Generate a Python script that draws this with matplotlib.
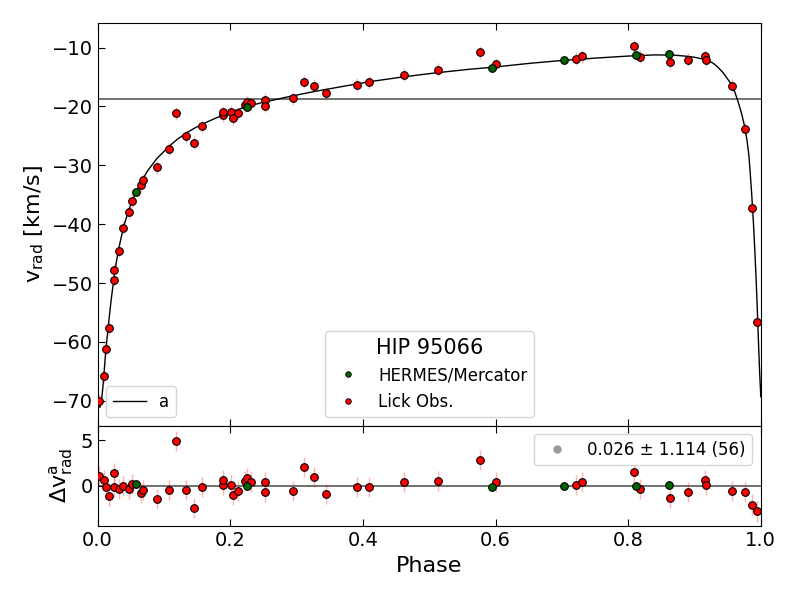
import matplotlib.pyplot as plt
from matplotlib.lines import Line2D

# Lick Obs. radial velocities (phase, v_rad [km/s], residual)
phase_lick = [0.002, 0.009, 0.0125, 0.017, 0.024, 0.0246, 0.032, 0.039, 0.0467, 0.0517,
              0.066, 0.0688, 0.0894, 0.1075, 0.1176, 0.134, 0.146, 0.157, 0.1884, 0.189,
              0.2005, 0.2045, 0.212, 0.223, 0.2255, 0.2316, 0.252, 0.2527, 0.294, 0.3115,
              0.3266, 0.3447, 0.3905, 0.4095, 0.4618, 0.514, 0.576, 0.6005, 0.721, 0.7297,
              0.8086, 0.818, 0.8633, 0.8895, 0.9156, 0.917, 0.9573, 0.976, 0.9865, 0.9945]
v_lick = [-70.0, -65.8, -61.2, -57.7, -49.4, -47.8, -44.5, -40.6, -38.0, -36.0,
          -33.4, -32.5, -30.3, -27.3, -21.2, -25.1, -26.2, -23.4, -21.5, -21.0,
          -20.95, -22.0, -21.2, -19.8, -19.25, -19.5, -18.9, -19.9, -18.6, -15.8,
          -16.5, -17.8, -16.3, -15.9, -14.6, -13.8, -10.8, -12.8, -11.9, -11.5,
          -9.8, -11.6, -12.5, -12.1, -11.45, -12.1, -16.5, -23.8, -37.3, -56.6]
res_lick = [1.05, 0.62, -0.1, -1.05, -0.1, 1.45, -0.3, 0.0, -0.3, 0.18,
            -0.77, -0.43, -1.4, -0.47, 4.9, -0.47, -2.39, -0.14, 0.14, 0.62,
            0.14, -1.0, -0.54, 0.5, 0.87, 0.43, 0.43, -0.65, -0.54, 2.07,
            0.98, -0.87, -0.1, -0.1, 0.4, 0.5, 2.79, 0.47, 0.1, 0.4,
            1.56, -0.36, -1.34, -0.69, 0.62, 0.07, -0.51, -0.65, -2.03, -2.79]
err_lick = [1.1] * len(phase_lick)

# HERMES/Mercator radial velocities
phase_herm = [0.0577, 0.2255, 0.5945, 0.7035, 0.812, 0.861]
v_herm = [-34.5, -20.05, -13.4, -12.1, -11.35, -11.1]
res_herm = [0.18, 0.04, -0.07, -0.04, -0.04, 0.1]
err_herm = [0.1] * len(phase_herm)

# orbit model
phase_model = [0.0, 0.002, 0.0035, 0.005, 0.007, 0.009, 0.0125, 0.017, 0.020, 0.0243,
               0.028, 0.032, 0.039, 0.047, 0.052, 0.058, 0.066, 0.075, 0.089, 0.1075,
               0.12, 0.134, 0.146, 0.16, 0.18, 0.20, 0.225, 0.25, 0.29, 0.33,
               0.37, 0.41, 0.46, 0.51, 0.56, 0.60, 0.65, 0.70, 0.75, 0.80,
               0.84, 0.87, 0.89, 0.90, 0.91, 0.92, 0.928, 0.935, 0.943, 0.95,
               0.956, 0.961, 0.966, 0.971, 0.976, 0.979, 0.982, 0.984, 0.9865, 0.989,
               0.991, 0.993, 0.9945, 0.996, 0.998, 1.0]
v_model = [-69.3, -70.8, -71.1, -70.5, -68.8, -66.4, -61.2, -56.4, -53.3, -49.4,
           -46.6, -44.1, -40.5, -37.6, -36.1, -34.6, -32.8, -31.0, -28.9, -26.8,
           -25.6, -24.5, -23.7, -22.9, -21.9, -21.0, -20.0, -19.3, -18.3, -17.4,
           -16.6, -15.8, -15.0, -14.3, -13.7, -13.3, -12.7, -12.2, -11.8, -11.45,
           -11.25, -11.3, -11.5, -11.65, -11.9, -12.2, -12.65, -13.3, -14.25, -15.35,
           -16.3, -17.6, -19.3, -21.2, -23.6, -25.6, -28.3, -31.2, -35.3, -40.0,
           -44.5, -49.5, -53.8, -58.5, -64.5, -69.3]
v_gamma = -18.7
res_label = "0.026 ± 1.114 (56)"

fig, (ax, axr) = plt.subplots(2, 1, figsize=(8, 6), dpi=100, sharex=True,
                              gridspec_kw={'height_ratios': [4, 1], 'hspace': 0})
fig.subplots_adjust(left=0.122, right=0.951, top=0.962, bottom=0.123)

stijl = dict(fmt='o', ms=5.5, mec='black', mew=0.8, ecolor='red',
             elinewidth=1, capsize=0)

ax.axhline(v_gamma, color='0.35', lw=1.2, zorder=1)
lijn, = ax.plot(phase_model, v_model, color='black', lw=1, zorder=2)
ax.errorbar(phase_lick, v_lick, yerr=err_lick, mfc='red', zorder=3,
            **stijl)[2][0].set_alpha(0.3)
ax.errorbar(phase_herm, v_herm, yerr=err_herm, mfc='darkgreen', zorder=4,
            **stijl)[2][0].set_alpha(0.3)

ax.set_xlim(0, 1)
ax.set_ylim(-74.2, -5.8)
ax.set_ylabel(r'v$_\mathrm{rad}$ [km/s]', fontsize=16)

leg1 = ax.legend([lijn], ['a'], loc='lower left', fontsize=12)
ax.add_artist(leg1)
handles = [Line2D([], [], ls='', marker='o', ms=4, mfc='darkgreen', mec='black', mew=0.6),
           Line2D([], [], ls='', marker='o', ms=4, mfc='red', mec='black', mew=0.6)]
leg2 = ax.legend(handles, ['HERMES/Mercator', 'Lick Obs.'], loc='lower center',
                 title='HIP 95066', fontsize=12, title_fontsize=15)

axr.axhline(0, color='0.35', lw=1.2, zorder=1)
axr.errorbar(phase_lick, res_lick, yerr=err_lick, mfc='red', zorder=3,
             **stijl)[2][0].set_alpha(0.3)
axr.errorbar(phase_herm, res_herm, yerr=err_herm, mfc='darkgreen', zorder=4,
             **stijl)[2][0].set_alpha(0.3)
axr.set_ylim(-4.4, 6.6)
axr.set_yticks([0, 5])
axr.set_xlabel('Phase', fontsize=16)
axr.set_ylabel(r'$\Delta$v$^\mathrm{a}_\mathrm{rad}$', fontsize=16)
grijs = Line2D([], [], ls='', marker='o', ms=6, mfc='gray', mec='none', alpha=0.8)
axr.legend([grijs], [res_label], loc='upper right', fontsize=12)

for a in (ax, axr):
    a.tick_params(direction='in', top=True, right=False, labelsize=14, length=5)

plt.savefig('out.png')
